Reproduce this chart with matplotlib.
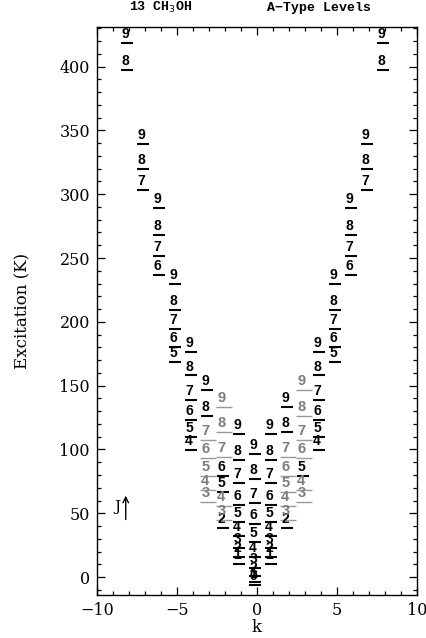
import matplotlib
matplotlib.use('Agg')
from matplotlib import pyplot as plt
from matplotlib.ticker import MultipleLocator

# level energies (K), J = |k| .. 9 for each |k|
E_k0 = [0, 2.3, 7, 13.5, 22.5, 34, 48.5, 64.5, 83.5, 103]
E_k1 = [17, 22, 29, 39, 50, 63, 80, 98.5, 119]
E_k2 = [45, 51, 62, 73.5, 86, 101, 120.5, 140]
E_k3 = [65.5, 74.5, 85.5, 100, 114, 132.5, 153]
E_k4 = [106, 116.5, 129.5, 145, 164.5, 183]
E_k5 = [175, 187, 201, 216, 236.5]
E_k6 = [243, 258, 274.5, 296]
E_k7 = [309.5, 326.5, 346]
E_k8 = [404, 425]
levels = [E_k0, E_k1, E_k2, E_k3, E_k4, E_k5, E_k6, E_k7, E_k8]

# levels whose label shows in gray (k: J values)
gray_levels = {-3: [3, 4, 5, 6, 7],
               -2: [3, 4, 7, 8, 9],
               2: [3, 4, 5, 6, 7],
               3: [3, 4, 6, 7, 8, 9]}

k_values = list(range(-8, 9))

fig = plt.figure(figsize=(4.27, 6.38), dpi=100)
ax = fig.add_axes([0.227, 0.0674, 0.7494, 0.8903])

line_off = 6.5   # line sits a little under the label
lab_font = dict(family='Liberation Sans', fontweight='bold')
gray_marks = []
for k in k_values:
    energies = levels[abs(k)]
    for i, e in enumerate(energies):
        J = abs(k) + i
        if J in gray_levels.get(k, []):
            gray_marks.append((k, J, e))
            continue
        ax.plot([k - 0.5, k + 0.25], [e - line_off, e - line_off],
                color='black', lw=1.5, solid_capstyle='butt')
        ax.text(k - 0.48, e + 0.5, str(J), ha='left', va='center',
                fontsize=10, color='black', **lab_font)

# gray ones on top
for k, J, e in gray_marks:
    ax.plot([k - 0.58, k + 0.45], [e - line_off, e - line_off],
            color='#999999', lw=1.0, solid_capstyle='butt')
    ax.text(k - 0.48, e + 0.5, str(J), ha='left', va='center',
            fontsize=10.5, color='#7c7c7c', **lab_font)

# J arrow
ax.text(-8.7, 55, 'J', ha='center', va='center', fontsize=11,
        family='DejaVu Serif')
ax.annotate('', xy=(-8.2, 66), xytext=(-8.2, 43),
            arrowprops=dict(arrowstyle='->', lw=1.0, color='black'))

ax.set_xlim(-10, 10)
ax.set_ylim(-14, 431)
ax.xaxis.set_major_locator(MultipleLocator(5))
ax.xaxis.set_minor_locator(MultipleLocator(1))
ax.yaxis.set_major_locator(MultipleLocator(50))
ax.yaxis.set_minor_locator(MultipleLocator(10))
ax.tick_params(which='both', direction='in', top=True, right=True, width=0.9)
ax.tick_params(which='major', length=6, labelsize=11.5, pad=5)
ax.tick_params(which='minor', length=3)
for lab in ax.get_xticklabels() + ax.get_yticklabels():
    lab.set_family('DejaVu Serif')
for s in ax.spines.values():
    s.set_linewidth(1.0)

ax.set_xlabel('k', family='DejaVu Serif', fontsize=12, labelpad=0)
ax.set_ylabel('Excitation (K)', family='DejaVu Serif', fontsize=12, labelpad=20)

fig.text(0.375, 0.988, r'13 CH$_3$OH', ha='center', va='center',
         family='Liberation Mono', fontweight='bold', fontsize=9.5)
fig.text(0.747, 0.988, 'A\u2212Type Levels', ha='center', va='center',
         family='Liberation Mono', fontweight='bold', fontsize=9.5)

fig.savefig('out.png', dpi=100)
